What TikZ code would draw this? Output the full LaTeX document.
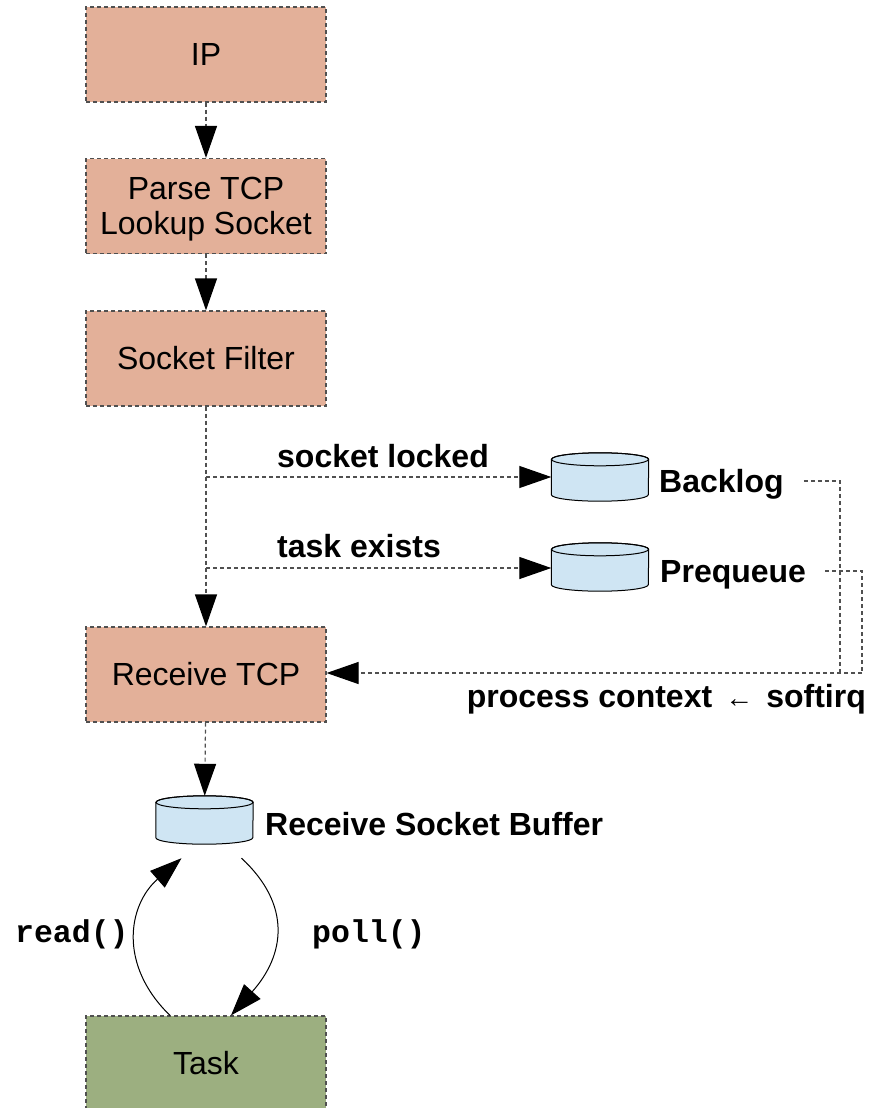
\documentclass[tikz,border=0pt]{standalone}
\usepackage{fontspec}
\setmainfont{Liberation Sans}
\setmonofont{Liberation Mono}
\usetikzlibrary{arrows.meta}

\definecolor{boxsalmon}{HTML}{E3B099}
\definecolor{taskgreen}{HTML}{9CAF80}
\definecolor{cylblue}{HTML}{CFE5F3}
\definecolor{dashgray}{HTML}{505050}

\tikzset{
  bigtip/.tip={Triangle[length=32pt,width=22pt,color=black,fill=black]},
  stage/.style={draw=dashgray, line width=1.2pt, dash pattern=on 4pt off 3pt,
    fill=boxsalmon, minimum width=240pt, minimum height=95pt, inner sep=0pt,
    align=center, font=\fontsize{32}{35}\selectfont},
  taskbox/.style={stage, fill=taskgreen},
  flow/.style={draw=dashgray, line width=1.2pt, dash pattern=on 4pt off 3pt, -bigtip},
  plainflow/.style={draw=dashgray, line width=1.2pt, dash pattern=on 4pt off 3pt},
  callflow/.style={draw=black, line width=1pt, -bigtip},
  cylnode/.style={minimum width=97pt, minimum height=48pt, inner sep=0pt},
  lbl/.style={inner sep=0pt, anchor=base west, font=\bfseries\fontsize{32}{35}\selectfont},
  codelbl/.style={inner sep=0pt, anchor=base west, font=\ttfamily\bfseries\fontsize{31.5}{35}\selectfont},
}

% draws a short upright cylinder inside the given (invisible) node
\newcommand\cylinderbody[1]{%
  \filldraw[fill=cylblue, draw=black, line width=1pt]
    ([yshift=-6.5pt]#1.north west) -- ([yshift=6.5pt]#1.south west)
    arc[start angle=180, end angle=360, x radius=48.5pt, y radius=6.5pt]
    -- ([yshift=-6.5pt]#1.north east)
    arc[start angle=0, end angle=180, x radius=48.5pt, y radius=6.5pt] -- cycle;
  \draw[black, line width=1pt] ([yshift=-6.5pt]#1.north)
    ellipse[x radius=48.5pt, y radius=6.5pt];
}

\begin{document}
\begin{tikzpicture}[x=1pt, y=-1pt]
  \useasboundingbox (0,0) rectangle (870,1108);

  % protocol stages
  \node[stage] (ip)    at (206,54.5)  {IP};
  \node[stage, text depth=0pt] (parse) at (206,206) {Parse TCP\\Lookup Socket};
  \node[stage] (sfilt) at (206,358.5) {Socket Filter};
  \node[stage] (rtcp)  at (206,674.5) {Receive TCP};
  \node[taskbox] (task) at (206,1063.5) {Task};

  % queues
  \node[cylnode] (backlog) at (600,477) {};
  \node[cylnode] (preq)    at (600,567) {};
  \node[cylnode] (rsb)     at (204.5,820) {};
  \cylinderbody{backlog}
  \cylinderbody{preq}
  \cylinderbody{rsb}

  % labels
  \node[lbl] (bll)  at (659,492) {Backlog};
  \node[lbl] (pql)  at (660,582) {Prequeue};
  \node[lbl] (rsbl) at (265,835) {Receive Socket Buffer};
  \node[lbl] (slk)  at (277,467) {socket locked};
  \node[lbl] (tex)  at (277,557) {task exists};
  \node[lbl, anchor=base east] (ctx) at (866,707)
    {process context\hspace{13pt}{\fontsize{28}{30}\selectfont ←}\hspace{13pt}softirq};
  \node[codelbl] (rd) at (15,942) {read()};
  \node[codelbl] (pl) at (312,942) {poll()};

  % main receive path
  \draw[flow] (ip) -- (parse);
  \draw[flow] (parse) -- (sfilt);
  \draw[flow] (sfilt) -- (rtcp);
  \draw[flow] (rtcp) -- (rsb);

  % diversions into the queues
  \coordinate (j1) at (206,477);
  \coordinate (j2) at (206,568);
  \draw[flow] (j1) -- (backlog.west);
  \draw[flow] (j2) -- (preq.west |- j2);

  % queues drained back into TCP receive
  \coordinate (k1) at (840,673);
  \coordinate (k2) at (862,673);
  \draw[plainflow] ([xshift=20pt,yshift=11pt]bll.base east) -| (k1);
  \draw[plainflow] ([xshift=19pt,yshift=11pt]pql.base east) -| (k2);
  \draw[flow] (k2) -- (rtcp.east |- k2);

  % task interaction with the socket buffer
  \draw[callflow] ([xshift=-36pt]task.north) .. controls (118,965) and (128,905) .. ([xshift=-23pt,yshift=-14pt]rsb.south);
  \draw[callflow] ([xshift=37pt,yshift=-14pt]rsb.south) .. controls (292,905) and (285,955) .. ([xshift=25pt]task.north);
\end{tikzpicture}
\end{document}
